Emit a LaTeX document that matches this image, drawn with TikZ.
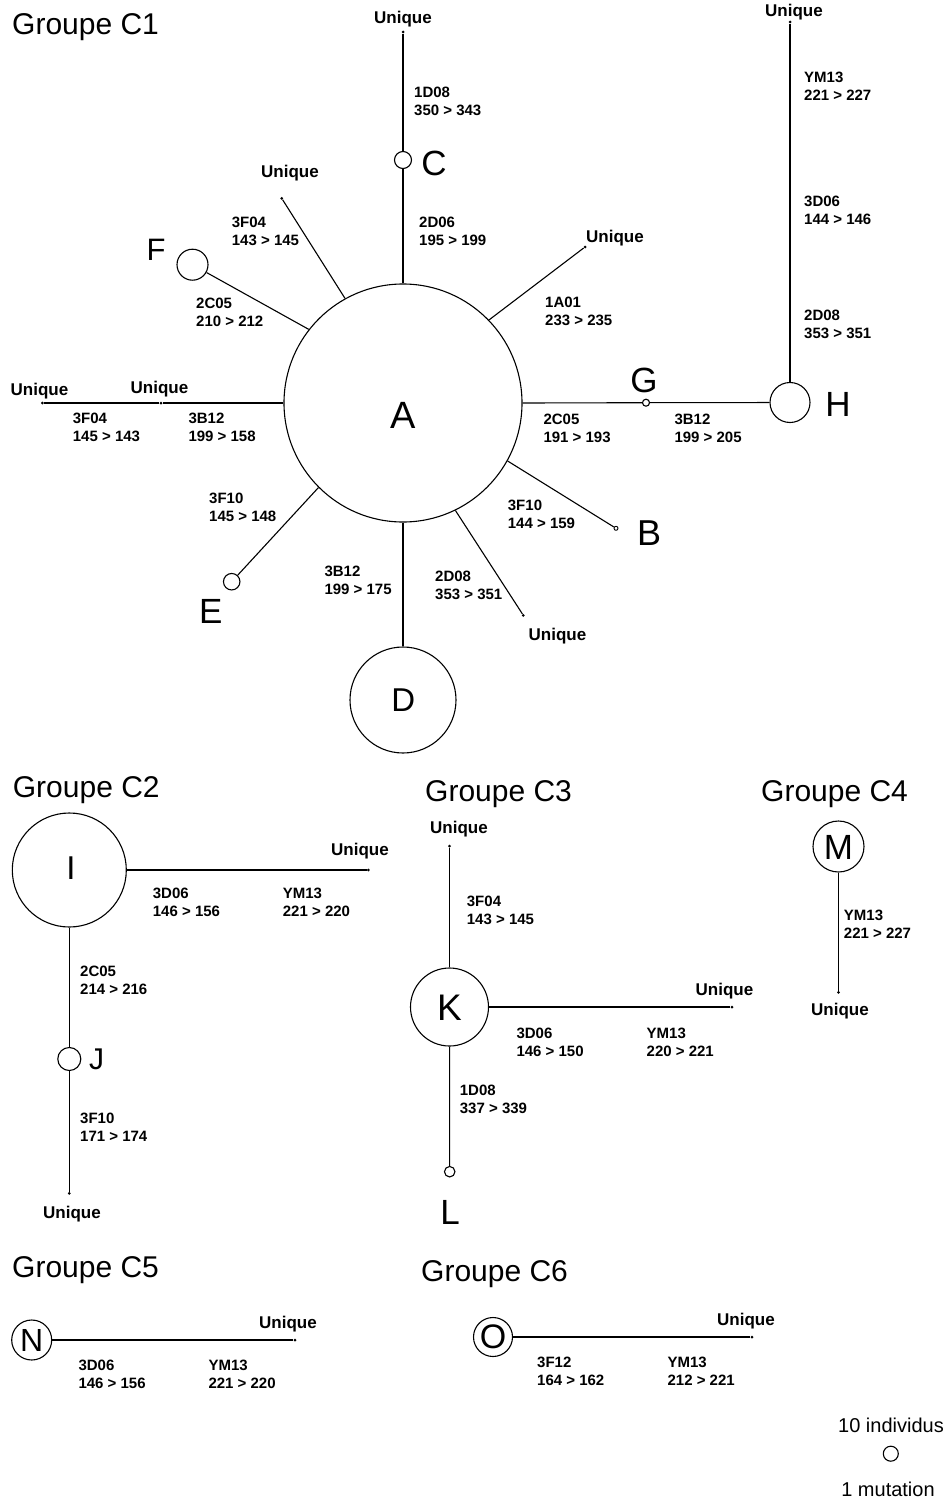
\documentclass[tikz,border=0pt]{standalone}
\usepackage{fontspec}
\setmainfont{Liberation Sans}
\begin{document}
\begin{tikzpicture}[x=1pt,y=-1pt,
  edge/.style={line width=1.1pt},
  hap/.style={circle,draw,line width=1.1pt,inner sep=0pt,fill=white},
  tipdot/.style={circle,fill,inner sep=0pt,minimum size=3pt},
  lett/.style={inner sep=0pt,font=\fontsize{35}{40}\selectfont},
  lab/.style={anchor=west,align=left,inner sep=0pt,font=\fontsize{15}{18}\selectfont\bfseries},
  uniq/.style={inner sep=0pt,font=\fontsize{17}{20}\selectfont\bfseries},
  grp/.style={anchor=base west,inner sep=0pt,font=\fontsize{30}{34}\selectfont},
  leg/.style={inner sep=0pt,font=\fontsize{20}{24}\selectfont}]
\fill[white] (0,0) rectangle (944,1504);
\useasboundingbox (0,0) rectangle (944,1504);

% ---------------- Groupe C1 ----------------
\node[grp] (g1) at (12,35) {Groupe C1};
\node[hap,minimum size=238pt] (A) at (403,403) {};
\node[lett,font=\fontsize{38}{42}\selectfont] (tA) at (403,415) {A};
\node[hap,minimum size=17pt] (C) at (403,160) {};
\node[lett] (tC) at (434,163) {C};
\node[hap,minimum size=31pt] (F) at (192.5,264.7) {};
\node[lett,font=\fontsize{31}{36}\selectfont] (tF) at (156,250) {F};
\node[hap,minimum size=7pt] (G) at (646,402.7) {};
\node[lett] (tG) at (644,380) {G};
\node[hap,minimum size=40pt] (H) at (790,402.5) {};
\node[lett] (tH) at (838,404) {H};
\node[hap,minimum size=4pt,line width=0.9pt] (B) at (616,528.3) {};
\node[lett,font=\fontsize{36}{40}\selectfont] (tB) at (649,533) {B};
\node[hap,minimum size=16.5pt] (E) at (231.7,581.7) {};
\node[lett] (tE) at (210.7,611.7) {E};
\node[hap,minimum size=106pt] (D) at (403,700) {};
\node[lett,font=\fontsize{33}{38}\selectfont] (tD) at (403.3,700) {D};

\node[tipdot] (uC) at (403,32) {};
\node[tipdot] (uH) at (790,22) {};
\node[tipdot] (uF) at (281.7,198.3) {};
\node[tipdot] (u1A) at (585,247) {};
\node[tipdot] (uL1) at (161,403) {};
\node[tipdot] (uL2) at (42.3,403) {};
\node[tipdot] (uD) at (523.3,615.3) {};

\node[uniq] (nC) at (403,19) {Unique};
\node[uniq] (nH) at (794,12) {Unique};
\node[uniq] (nF) at (290,173) {Unique};
\node[uniq] (n1A) at (615,238) {Unique};
\node[uniq] (nL2) at (39.5,391) {Unique};
\node[uniq] (nL1) at (159.5,389.5) {Unique};
\node[uniq] (nD) at (557.5,636) {Unique};

\draw[edge] (A.90) -- (C);
\draw[edge] (C) -- (uC);
\draw[edge] (A.142.4) -- (F);
\draw[edge] (A.119.7) -- (uF);
\draw[edge] (A.44.8) -- (u1A);
\draw[edge] (A.180) -- (uL1) -- (uL2);
\draw[edge] (A.0) -- (G);
\draw[edge] (G) -- (H);
\draw[edge] (H) -- (uH);
\draw[edge] (A.-29.8) -- (B);
\draw[edge] (A.-64.9) -- (uD);
\draw[edge] (A.-90) -- (D);
\draw[edge] (A.-135) -- (E);

\node[lab] (l1) at (414,101.5) {1D08\\350 > 343};
\node[lab] (l2) at (419,231.7) {2D06\\195 > 199};
\node[lab] (l3) at (231.7,231.3) {3F04\\143 > 145};
\node[lab] (l4) at (196,312.8) {2C05\\210 > 212};
\node[lab] (l5) at (545,311.7) {1A01\\233 > 235};
\node[lab] (l6) at (804,86.2) {YM13\\221 > 227};
\node[lab] (l7) at (804,210.5) {3D06\\144 > 146};
\node[lab] (l8) at (804,324) {2D08\\353 > 351};
\node[lab] (l9) at (72.7,427.8) {3F04\\145 > 143};
\node[lab] (l10) at (188.3,427.8) {3B12\\199 > 158};
\node[lab] (l11) at (543.3,428) {2C05\\191 > 193};
\node[lab] (l12) at (674.3,428) {3B12\\199 > 205};
\node[lab] (l13) at (507.7,514.5) {3F10\\144 > 159};
\node[lab] (l14) at (209,507.8) {3F10\\145 > 148};
\node[lab] (l15) at (324.3,580.2) {3B12\\199 > 175};
\node[lab] (l16) at (435,585) {2D08\\353 > 351};

% ---------------- Groupe C2 ----------------
\node[grp] (g2) at (12.7,797) {Groupe C2};
\node[hap,minimum size=114pt] (I) at (69.3,870) {};
\node[lett,font=\fontsize{33}{38}\selectfont] (tI) at (71,868) {I};
\node[hap,minimum size=23pt] (J) at (69.3,1059) {};
\node[lett,font=\fontsize{30}{34}\selectfont] (tJ) at (96.7,1059) {J};
\node[tipdot] (uI1) at (368.3,870) {};
\node[tipdot] (uI2) at (69.3,1193.3) {};
\node[uniq] (nI1) at (360,851) {Unique};
\node[uniq] (nI2) at (72,1214) {Unique};
\draw[edge] (I) -- (uI1);
\draw[edge] (I) -- (J);
\draw[edge] (J) -- (uI2);
\node[lab] (l17) at (152.7,902.5) {3D06\\146 > 156};
\node[lab] (l18) at (282.7,902.5) {YM13\\221 > 220};
\node[lab] (l19) at (80,980.8) {2C05\\214 > 216};
\node[lab] (l20) at (80,1127.2) {3F10\\171 > 174};

% ---------------- Groupe C3 ----------------
\node[grp] (g3) at (425,801) {Groupe C3};
\node[hap,minimum size=78pt] (K) at (449.5,1007) {};
\node[lett,font=\fontsize{37}{42}\selectfont] (tK) at (449.5,1008) {K};
\node[hap,minimum size=10.5pt] (L) at (449.7,1171.7) {};
\node[lett] (tL) at (450,1212) {L};
\node[tipdot] (uK1) at (449.5,846) {};
\node[tipdot] (uK2) at (732,1007) {};
\node[uniq] (nK1) at (459,829.3) {Unique};
\node[uniq] (nK2) at (724.5,991.5) {Unique};
\draw[edge] (K) -- (uK1);
\draw[edge] (K) -- (uK2);
\draw[edge] (K) -- (L);
\node[lab] (l21) at (466.7,910) {3F04\\143 > 145};
\node[lab] (l22) at (516.3,1042.5) {3D06\\146 > 150};
\node[lab] (l23) at (646.5,1042.5) {YM13\\220 > 221};
\node[lab] (l24) at (459.7,1099.8) {1D08\\337 > 339};

% ---------------- Groupe C4 ----------------
\node[grp] (g4) at (761,801) {Groupe C4};
\node[hap,minimum size=51pt] (M) at (838.5,846.5) {};
\node[lett] (tM) at (838.5,847) {M};
\node[tipdot] (uM) at (838.5,992.3) {};
\node[uniq] (nM) at (840,1010.7) {Unique};
\draw[edge] (M) -- (uM);
\node[lab] (l25) at (843.7,924.2) {YM13\\221 > 227};

% ---------------- Groupe C5 ----------------
\node[grp] (g5) at (12,1277) {Groupe C5};
\node[hap,minimum size=40pt] (N) at (31.7,1340) {};
\node[lett,font=\fontsize{32}{36}\selectfont] (tN) at (31.7,1340) {N};
\node[tipdot] (uN) at (295,1340) {};
\node[uniq] (nN) at (288,1324) {Unique};
\draw[edge] (N) -- (uN);
\node[lab] (l26) at (78.3,1374.8) {3D06\\146 > 156};
\node[lab] (l27) at (208.3,1374.8) {YM13\\221 > 220};

% ---------------- Groupe C6 ----------------
\node[grp] (g6) at (421,1281) {Groupe C6};
\node[hap,minimum size=39pt] (O) at (493,1337) {};
\node[lett,font=\fontsize{34}{38}\selectfont] (tO) at (493,1337) {O};
\node[tipdot] (uO) at (752,1337) {};
\node[uniq] (nO) at (746,1320.6) {Unique};
\draw[edge] (O) -- (uO);
\node[lab] (l28) at (537,1371) {3F12\\164 > 162};
\node[lab] (l29) at (667.4,1371) {YM13\\212 > 221};

% ---------------- Legend ----------------
\node[leg] (leg1) at (891,1425) {10 individus};
\node[hap,minimum size=15pt] (legc) at (890.8,1453.7) {};
\node[leg] (leg2) at (888,1489) {1 mutation};
\end{tikzpicture}
\end{document}
